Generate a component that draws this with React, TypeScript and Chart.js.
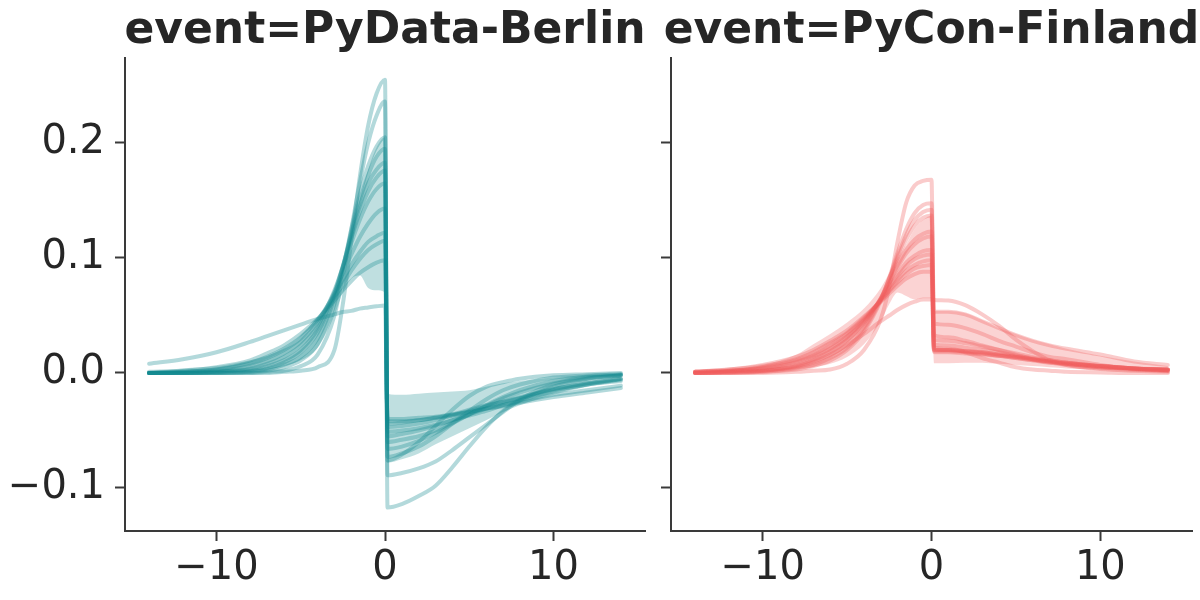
import React, { useEffect, useRef } from 'react';
import Chart from 'chart.js/auto';

// shared x positions (two points around 0 give the jump)
const xGrid = [-14, -12, -10, -8, -7, -6, -5, -4, -3, -2.5, -2, -1.5, -1, -0.5, 0, 0.15, 1, 2, 3, 4, 5, 6, 7, 8, 10, 12, 14];
const xTicks = [-10, 0, 10];
const yTicks = [-0.1, 0, 0.1, 0.2];

// event=PyData-Berlin
const berlin01 = [0, 0, 0, 0, 0, 0.001, 0.002, 0.005, 0.02, 0.06, 0.115, 0.17, 0.215, 0.243, 0.255, -0.117, -0.114, -0.107, -0.098, -0.082, -0.064, -0.047, -0.033, -0.023, -0.01, -0.005, -0.002];
const berlin02 = [0, 0, 0, 0, 0.001, 0.002, 0.006, 0.016, 0.05, 0.085, 0.125, 0.165, 0.2, 0.224, 0.236, -0.089, -0.087, -0.083, -0.077, -0.067, -0.056, -0.045, -0.034, -0.024, -0.012, -0.005, -0.002];
const berlin03 = [0, 0, 0, 0.001, 0.002, 0.005, 0.011, 0.025, 0.06, 0.09, 0.125, 0.155, 0.18, 0.197, 0.205, -0.076, -0.071, -0.06, -0.046, -0.032, -0.02, -0.012, -0.008, -0.005, -0.002, -0.001, 0];
const berlin04 = [0, 0, 0, 0.001, 0.003, 0.007, 0.014, 0.03, 0.065, 0.092, 0.122, 0.15, 0.172, 0.188, 0.195, -0.073, -0.07, -0.064, -0.055, -0.044, -0.033, -0.023, -0.015, -0.01, -0.004, -0.002, -0.001];
const berlin05 = [0, 0, 0.001, 0.002, 0.004, 0.009, 0.018, 0.035, 0.068, 0.093, 0.12, 0.145, 0.165, 0.177, 0.183, -0.066, -0.064, -0.059, -0.052, -0.044, -0.036, -0.028, -0.021, -0.015, -0.007, -0.003, -0.001];
const berlin06 = [0, 0, 0.001, 0.003, 0.006, 0.011, 0.02, 0.038, 0.07, 0.093, 0.117, 0.14, 0.158, 0.17, 0.176, -0.06, -0.058, -0.055, -0.05, -0.043, -0.036, -0.029, -0.022, -0.017, -0.009, -0.004, -0.002];
const berlin07 = [0, 0, 0.001, 0.004, 0.008, 0.014, 0.024, 0.041, 0.072, 0.092, 0.113, 0.133, 0.149, 0.16, 0.165, -0.055, -0.053, -0.05, -0.046, -0.041, -0.036, -0.031, -0.026, -0.022, -0.014, -0.009, -0.005];
const berlin08 = [0, 0.001, 0.002, 0.006, 0.01, 0.017, 0.027, 0.044, 0.07, 0.087, 0.103, 0.118, 0.13, 0.139, 0.143, -0.051, -0.05, -0.048, -0.045, -0.041, -0.037, -0.033, -0.028, -0.024, -0.016, -0.01, -0.007];
const berlin09 = [0, 0.001, 0.003, 0.008, 0.013, 0.02, 0.03, 0.046, 0.068, 0.081, 0.094, 0.105, 0.114, 0.119, 0.122, -0.047, -0.046, -0.044, -0.041, -0.037, -0.033, -0.029, -0.025, -0.021, -0.014, -0.009, -0.005];
const berlin10 = [0, 0.001, 0.003, 0.009, 0.014, 0.021, 0.031, 0.046, 0.066, 0.077, 0.089, 0.099, 0.107, 0.112, 0.115, -0.044, -0.043, -0.041, -0.039, -0.036, -0.032, -0.028, -0.025, -0.022, -0.015, -0.01, -0.006];
const berlin11 = [0.001, 0.002, 0.005, 0.011, 0.017, 0.024, 0.034, 0.047, 0.063, 0.072, 0.08, 0.087, 0.092, 0.096, 0.098, -0.042, -0.042, -0.041, -0.039, -0.037, -0.034, -0.031, -0.028, -0.025, -0.019, -0.015, -0.011];
const berlin12 = [0.008, 0.012, 0.018, 0.027, 0.032, 0.037, 0.042, 0.047, 0.051, 0.053, 0.054, 0.056, 0.057, 0.058, 0.0586, -0.04, -0.04, -0.039, -0.038, -0.036, -0.034, -0.031, -0.029, -0.026, -0.021, -0.017, -0.013];
const berlinUpper = [0.002, 0.004, 0.006, 0.011, 0.015, 0.021, 0.029, 0.043, 0.068, 0.09, 0.12, 0.15, 0.177, 0.196, 0.205, -0.018, -0.019, -0.018, -0.017, -0.016, -0.015, -0.012, -0.009, -0.007, -0.004, -0.002, -0.001];
const berlinLower = [0, 0, 0.001, 0.002, 0.003, 0.006, 0.011, 0.022, 0.05, 0.07, 0.082, 0.085, 0.074, 0.072, 0.07, -0.078, -0.075, -0.07, -0.062, -0.055, -0.048, -0.041, -0.034, -0.028, -0.019, -0.012, -0.007];

// event=PyCon-Finland
const finland01 = [0, 0, 0, 0.001, 0.002, 0.003, 0.008, 0.02, 0.047, 0.075, 0.115, 0.148, 0.163, 0.167, 0.168, 0.022, 0.021, 0.018, 0.013, 0.009, 0.005, 0.003, 0.002, 0.001, 0.0005, 0, 0];
const finland02 = [0, 0, 0.001, 0.003, 0.006, 0.011, 0.02, 0.036, 0.063, 0.083, 0.105, 0.125, 0.139, 0.146, 0.1475, 0.0533, 0.0533, 0.051, 0.045, 0.039, 0.033, 0.028, 0.024, 0.021, 0.016, 0.01, 0.007];
const finland03 = [0, 0, 0.001, 0.004, 0.007, 0.013, 0.022, 0.038, 0.064, 0.082, 0.102, 0.12, 0.133, 0.14, 0.142, 0.0432, 0.042, 0.039, 0.034, 0.028, 0.023, 0.018, 0.014, 0.012, 0.007, 0.004, 0.0026];
const finland04 = [0, 0.001, 0.002, 0.005, 0.009, 0.015, 0.025, 0.04, 0.065, 0.082, 0.1, 0.116, 0.128, 0.135, 0.137, 0.033, 0.031, 0.028, 0.024, 0.02, 0.016, 0.012, 0.009, 0.007, 0.004, 0.003, 0.002];
const finland05 = [0, 0.001, 0.002, 0.006, 0.011, 0.018, 0.028, 0.043, 0.065, 0.079, 0.094, 0.107, 0.116, 0.121, 0.123, 0.0287, 0.028, 0.026, 0.023, 0.02, 0.017, 0.014, 0.011, 0.009, 0.006, 0.004, 0.003];
const finland06 = [0, 0.001, 0.003, 0.007, 0.012, 0.019, 0.029, 0.044, 0.065, 0.078, 0.092, 0.104, 0.112, 0.117, 0.119, 0.0245, 0.024, 0.022, 0.02, 0.018, 0.015, 0.013, 0.011, 0.009, 0.006, 0.004, 0.003];
const finland07 = [0.001, 0.002, 0.004, 0.009, 0.014, 0.021, 0.031, 0.045, 0.064, 0.075, 0.086, 0.096, 0.102, 0.106, 0.107, 0.021, 0.02, 0.019, 0.018, 0.016, 0.014, 0.012, 0.01, 0.008, 0.005, 0.004, 0.003];
const finland08 = [0.001, 0.002, 0.004, 0.01, 0.015, 0.022, 0.032, 0.046, 0.064, 0.074, 0.084, 0.093, 0.099, 0.102, 0.103, 0.02, 0.02, 0.019, 0.017, 0.015, 0.014, 0.012, 0.01, 0.008, 0.006, 0.004, 0.002];
const finland09 = [0.001, 0.002, 0.005, 0.011, 0.016, 0.024, 0.034, 0.047, 0.063, 0.072, 0.081, 0.089, 0.094, 0.097, 0.098, 0.019, 0.019, 0.018, 0.017, 0.015, 0.013, 0.011, 0.01, 0.008, 0.006, 0.004, 0.003];
const finland10 = [0.001, 0.003, 0.006, 0.012, 0.018, 0.026, 0.035, 0.048, 0.063, 0.071, 0.079, 0.086, 0.091, 0.093, 0.094, 0.018, 0.018, 0.017, 0.016, 0.015, 0.013, 0.011, 0.009, 0.008, 0.005, 0.003, 0.002];
const finland11 = [0.001, 0.003, 0.007, 0.014, 0.02, 0.028, 0.037, 0.049, 0.062, 0.069, 0.076, 0.082, 0.086, 0.088, 0.088, 0.02, 0.02, 0.019, 0.018, 0.016, 0.014, 0.012, 0.01, 0.009, 0.006, 0.004, 0.003];
const finland12 = [0, 0.001, 0.002, 0.006, 0.01, 0.016, 0.024, 0.034, 0.045, 0.05, 0.055, 0.059, 0.062, 0.064, 0.064, 0.0635, 0.063, 0.059, 0.051, 0.041, 0.029, 0.019, 0.011, 0.007, 0.0035, 0.002, 0.001];
const finlandUpper = [0.001, 0.003, 0.007, 0.016, 0.025, 0.034, 0.044, 0.056, 0.074, 0.087, 0.1, 0.112, 0.125, 0.133, 0.137, 0.054, 0.054, 0.052, 0.046, 0.039, 0.034, 0.029, 0.025, 0.021, 0.015, 0.01, 0.006];
const finlandLower = [0, 0, 0.001, 0.003, 0.005, 0.008, 0.014, 0.025, 0.045, 0.06, 0.07, 0.067, 0.064, 0.065, 0.065, 0.0084, 0.0084, 0.009, 0.009, 0.008, 0.007, 0.006, 0.005, 0.004, 0.003, 0.002, 0.001];

const berlinCurves = [berlin01, berlin02, berlin03, berlin04, berlin05, berlin06, berlin07, berlin08, berlin09, berlin10, berlin11, berlin12];
const finlandCurves = [finland01, finland02, finland03, finland04, finland05, finland06, finland07, finland08, finland09, finland10, finland11, finland12];

const TEXT = '#262626';
const AXIS = '#3a3a3a';

Chart.defaults.font.family = "'DejaVu Sans', sans-serif";

const toPoints = (ys: number[]) => xGrid.map((x, i) => ({ x, y: ys[i] }));
const fmt = (v: number, digits: number) => (v < 0 ? '\u2212' : '') + Math.abs(v).toFixed(digits);

interface PanelProps {
    title: string;
    rgb: string;
    curves: number[][];
    upper: number[];
    lower: number[];
    showYLabels: boolean;
    left: number;
    width: number;
    axisWidth: number;
    padRight: number;
}

const FacetPanel = ({ title, rgb, curves, upper, lower, showYLabels, left, width, axisWidth, padRight }: PanelProps) => {
    const canvasRef = useRef<HTMLCanvasElement>(null);

    useEffect(() => {
        const ctx = canvasRef.current?.getContext('2d');
        if (!ctx) return;

        const titlePlugin = {
            id: 'facetTitle',
            afterDraw(chart: any) {
                const { ctx: c, chartArea } = chart;
                c.save();
                c.font = "bold 44px 'DejaVu Sans'";
                c.fillStyle = TEXT;
                c.textAlign = 'center';
                c.textBaseline = 'alphabetic';
                c.fillText(title, (chartArea.left + chartArea.right) / 2, 43);
                c.restore();
            }
        };

        const lineStyle = {
            borderColor: `rgba(${rgb}, 0.32)`,
            borderWidth: 4,
            pointRadius: 0,
            fill: false,
            cubicInterpolationMode: 'monotone' as const,
            borderCapStyle: 'round' as const,
            borderJoinStyle: 'round' as const,
        };

        const datasets: any[] = [
            { data: toPoints(lower), borderWidth: 0, pointRadius: 0, fill: false, cubicInterpolationMode: 'monotone' },
            { data: toPoints(upper), borderWidth: 0, pointRadius: 0, fill: '-1', backgroundColor: `rgba(${rgb}, 0.27)`, cubicInterpolationMode: 'monotone' },
            ...curves.map(ys => ({ data: toPoints(ys), ...lineStyle })),
        ];

        const grid = { display: true, drawOnChartArea: false, drawTicks: true, tickLength: 10, tickWidth: 2, tickColor: AXIS };
        const border = { display: true, color: AXIS, width: 2 };

        const chart = new Chart(ctx, {
            type: 'line',
            data: { datasets },
            plugins: [titlePlugin],
            options: {
                animation: false,
                responsive: false,
                devicePixelRatio: 1,
                layout: { padding: { top: 58, right: padRight, left: 0, bottom: 0 } },
                plugins: { legend: { display: false }, tooltip: { enabled: false } },
                scales: {
                    x: {
                        type: 'linear',
                        min: -15.43,
                        max: 15.43,
                        afterBuildTicks: (s: any) => { s.ticks = xTicks.map(value => ({ value })); },
                        afterFit: (s: any) => { s.height = 69; },
                        ticks: { font: { size: 40 }, color: TEXT, padding: 4, maxRotation: 0, callback: (v: any) => fmt(Number(v), 0) },
                        grid,
                        border,
                    },
                    y: {
                        min: -0.1374,
                        max: 0.2739,
                        afterBuildTicks: (s: any) => { s.ticks = yTicks.map(value => ({ value })); },
                        afterFit: (s: any) => { s.width = axisWidth; },
                        ticks: {
                            font: { size: 40 },
                            color: showYLabels ? TEXT : 'rgba(0,0,0,0)',
                            padding: 10,
                            callback: (v: any) => fmt(Number(v), 1),
                        },
                        grid,
                        border,
                    },
                },
            },
        });

        return () => chart.destroy();
    }, [title, rgb, curves, upper, lower, showYLabels, axisWidth, padRight]);

    return (
        <canvas
            ref={canvasRef}
            width={width}
            height={600}
            style={{ position: 'absolute', left, top: 0, width, height: 600, display: 'block' }}
        />
    );
};

export default function App() {
    return (
        <div style={{ position: 'absolute', left: 0, top: 0, width: 1200, height: 600, background: '#fff', overflow: 'hidden' }}>
            <FacetPanel
                title="event=PyData-Berlin"
                rgb="19, 138, 142"
                curves={berlinCurves}
                upper={berlinUpper}
                lower={berlinLower}
                showYLabels={true}
                left={0}
                width={650}
                axisWidth={125}
                padRight={5}
            />
            <FacetPanel
                title="event=PyCon-Finland"
                rgb="240, 92, 92"
                curves={finlandCurves}
                upper={finlandUpper}
                lower={finlandLower}
                showYLabels={false}
                left={650}
                width={550}
                axisWidth={21}
                padRight={8}
            />
        </div>
    );
}
